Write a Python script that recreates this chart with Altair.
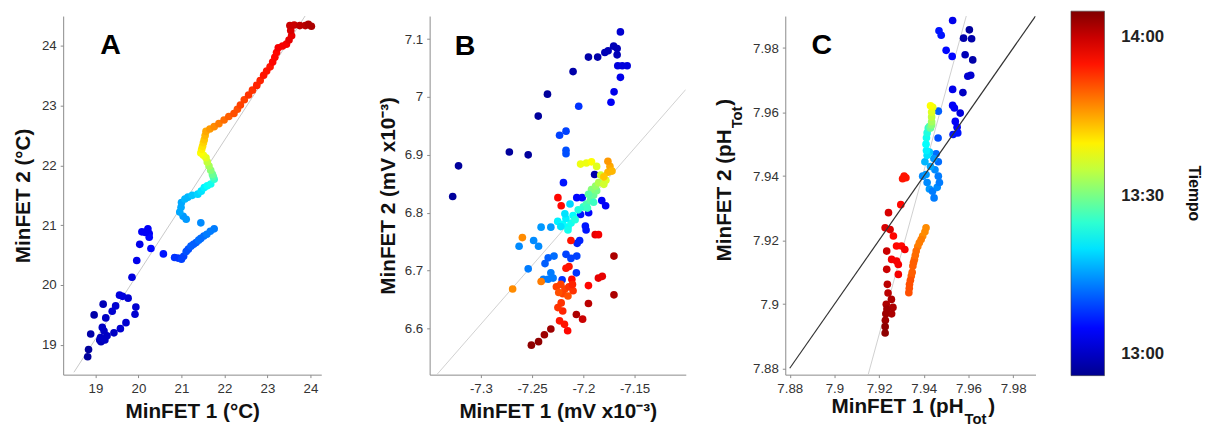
import altair as alt
import pandas as pd

FONT = "Liberation Sans"

# ---------------- Panel A (temperature, °C) ----------------
a_x = [18.82, 18.84, 18.89, 18.97, 19.18, 19.10, 19.13, 19.16, 19.12, 19.20, 19.27, 19.22, 19.43, 19.58,
       19.71, 19.92, 19.94, 19.76, 19.56, 19.63, 19.47, 19.39, 19.24, 19.16,
       19.85, 19.96, 20.03, 20.08, 20.22, 20.25, 20.25, 20.16, 20.29, 20.58,
       20.84, 20.92, 21.00, 21.05, 21.11, 21.16, 21.22, 21.28, 21.34, 21.40, 21.45, 21.52, 21.59, 21.67, 21.76,
       21.45, 21.11, 21.04, 20.96, 20.99, 21.00, 21.08, 21.15, 21.25, 21.38, 21.46, 21.53, 21.60, 21.68, 21.76,
       21.74, 21.72, 21.68, 21.64, 21.60, 21.57, 21.51, 21.45, 21.47, 21.49, 21.51, 21.53, 21.55, 21.57,
       21.66, 21.76, 21.87, 21.99, 22.10, 22.22, 22.30, 22.37, 22.46, 22.56, 22.65, 22.75, 22.83, 22.91,
       22.98, 23.06, 23.12, 23.17, 23.21, 23.25, 23.35, 23.44, 23.50, 23.56, 23.54, 23.52, 23.62, 23.75,
       23.88, 24.02, 23.95]
a_y = [18.80, 18.92, 19.18, 19.50, 19.68, 19.08, 19.05, 19.10, 19.12, 19.23, 19.15, 19.08, 19.20, 19.27,
       19.37, 19.51, 19.63, 19.78, 19.83, 19.81, 19.65, 19.56, 19.45, 19.29,
       20.13, 20.41, 20.68, 20.89, 20.94, 20.86, 20.80, 20.88, 20.61, 20.52,
       20.46, 20.45, 20.43, 20.48, 20.56, 20.60, 20.65, 20.68, 20.71, 20.75, 20.78, 20.82, 20.85, 20.90, 20.94,
       21.04, 21.10, 21.15, 21.22, 21.30, 21.38, 21.44, 21.47, 21.50, 21.52, 21.57, 21.63, 21.66, 21.69, 21.77,
       21.81, 21.85, 21.92, 21.99, 22.06, 22.13, 22.17, 22.21, 22.27, 22.32, 22.38, 22.43, 22.50, 22.57,
       22.61, 22.65, 22.70, 22.76, 22.82, 22.87, 22.94, 23.01, 23.10, 23.18, 23.26, 23.34, 23.42, 23.51,
       23.58, 23.65, 23.73, 23.81, 23.89, 23.97, 24.00, 24.03, 24.10, 24.17, 24.26, 24.34, 24.35, 24.34,
       24.34, 24.33, 24.36]
a_t = [-3, -3, -2, -2, -1, -1, -1, -1, 0, 0, 0, 0, 0, 1,
       1, 1, 1, 1, 2, 2, 1, 1, 0, 0,
       2, 3, 3, 4, 4, 4, 5, 4, 5, 6,
       8, 8, 9, 9, 10, 10, 11, 11, 11, 12, 12, 12, 13, 13, 13,
       14, 15, 15, 16, 16, 16, 17, 17, 18, 19, 20, 21, 22, 23, 25,
       27, 29, 31, 33, 35, 37, 38, 39, 40, 41, 42, 43, 44, 45,
       46, 47, 48, 49, 50, 51, 51, 52, 52, 53, 53, 54, 54, 55,
       55, 55, 56, 56, 56, 57, 57, 57, 58, 58, 59, 60, 60, 61,
       61, 62, 62]
a_line_x = [18.5, 23.9]
a_line_y = [18.54, 24.53]

# ---------------- Panel B (mV x10^-3) ----------------
b_x = [-7.1704, -7.1670, -7.1758, -7.1790, -7.1860, -7.1950, -7.1670, -7.2100, -7.2350, -7.2440, -7.2722,
       -7.2538, -7.3218, -7.3275, -7.1890,
       -7.1638, -7.1664, -7.1620, -7.1572, -7.1638, -7.1700, -7.1730, -7.2045, -7.2232, -7.2169, -7.2169,
       -7.2169, -7.2194, -7.2064, -7.2011, -7.2027, -7.1948, -7.1980, -7.1973, -7.1820, -7.1782, -7.2036,
       -7.2060, -7.2169, -7.2121, -7.2064, -7.2068, -7.2207,
       -7.2412, -7.2317, -7.2627, -7.2485, -7.2437, -7.2538, -7.2374, -7.2343, -7.2286, -7.2390, -7.2343,
       -7.2295, -7.2317,
       -7.2250, -7.2200, -7.2150, -7.2120, -7.2170, -7.2100, -7.2050, -7.2000, -7.2150, -7.2220, -7.2080,
       -7.2180, -7.2130,
       -7.1970, -7.1930, -7.1900, -7.1870, -7.1920, -7.1950, -7.1880, -7.1850, -7.1900, -7.1960,
       -7.2027, -7.1970, -7.1920, -7.1870, -7.1830, -7.1780, -7.1800,
       -7.1760, -7.1740, -7.1760, -7.1720, -7.1800, -7.2595, -7.2690, -7.2412,
       -7.2248, -7.2216, -7.2121, -7.2169, -7.2140, -7.2112,
       -7.2263, -7.2220, -7.2180, -7.2140, -7.2100, -7.2200, -7.2150, -7.2240, -7.2106,
       -7.1950, -7.1853, -7.1815, -7.1884, -7.1852,
       -7.2216, -7.2201, -7.2232, -7.2184, -7.2153, -7.2248,
       -7.1701, -7.1701, -7.1950, -7.2068, -7.2007, -7.2317, -7.2380, -7.2437, -7.2507]
b_y = [7.088, 7.084, 7.080, 7.077, 7.069, 7.069, 7.073, 7.044, 7.005, 6.967, 6.905,
       6.900, 6.881, 6.828, 6.866,
       7.1126, 7.054, 7.054, 7.054, 7.034, 7.009, 6.991, 6.984, 6.934, 6.941, 6.908,
       6.902, 6.852, 6.826, 6.826, 6.797, 6.800, 6.777, 6.770, 6.821, 6.812, 6.752,
       6.747, 6.728, 6.721, 6.725, 6.696, 6.684,
       6.775, 6.775, 6.742, 6.752, 6.742, 6.703, 6.712, 6.722, 6.725, 6.685, 6.685,
       6.687, 6.696,
       6.785, 6.780, 6.775, 6.782, 6.790, 6.795, 6.805, 6.810, 6.770, 6.776, 6.788,
       6.798, 6.815,
       6.815, 6.822, 6.830, 6.838, 6.840, 6.832, 6.846, 6.852, 6.818, 6.808,
       6.884, 6.886, 6.888, 6.880, 6.865, 6.856, 6.849,
       6.870, 6.880, 6.889, 6.872, 6.862, 6.757, 6.668, 6.681,
       6.826, 6.812, 6.752, 6.704, 6.707, 6.685,
       6.672, 6.676, 6.668, 6.672, 6.665, 6.660, 6.656, 6.662, 6.676,
       6.674, 6.687, 6.690, 6.762, 6.762,
       6.644, 6.630, 6.613, 6.607, 6.596, 6.636,
       6.658, 6.725, 6.643, 6.624, 6.616, 6.599, 6.589, 6.577, 6.571]
b_t = [-1, -1, -1, -1, -2, -2, -1, -2, -3, -3, -3,
       -3, -3, -3, -2,
       1, 2, 2, 2, 3, 3, 4, 8, 9, 9, 10,
       10, 6, 5, 5, 6, 5, 6, 6, 4, 4, 7,
       7, 9, 9, 9, 8, 8,
       15, 15, 14, 14, 14, 13, 11, 11, 12, 13, 13,
       13, 13,
       21, 22, 22, 23, 21, 22, 24, 25, 23, 20, 24,
       20, 19,
       27, 28, 29, 30, 31, 28, 32, 34, 26, 26,
       38, 38, 39, 37, 36, 37, 36,
       44, 45, 46, 44, 43, 47, 47, 48,
       56, 56, 55, 55, 55, 56,
       52, 52, 52, 53, 53, 52, 51, 51, 54,
       56, 58, 58, 58, 57,
       53, 54, 55, 55, 56, 53,
       62, 62, 61, 62, 60, 63, 63, 64, 64]
b_line_x = [-7.343, -7.100]
b_line_y = [6.520, 7.013]

# ---------------- Panel C (pH_Tot) ----------------
c_x = [7.9529, 7.9468, 7.9478, 7.9604, 7.9578, 7.9614, 7.9500, 7.9527, 7.9585, 7.9619, 7.9597, 7.9610,
       7.9529, 7.9575, 7.9529, 7.9537, 7.9563, 7.9541, 7.9549, 7.9531, 7.9552, 7.9465, 7.9464,
       7.9395, 7.9415, 7.9425, 7.9439, 7.9446, 7.9460, 7.9465, 7.9450, 7.9465, 7.9455, 7.9445, 7.9430,
       7.9410, 7.9405, 7.9425, 7.9470,
       7.9415, 7.9412, 7.9410, 7.9412, 7.9415, 7.9420, 7.9425, 7.9430, 7.9435, 7.9435, 7.9435, 7.9435,
       7.9440, 7.9430,
       7.9410, 7.9405, 7.9395, 7.9388, 7.9380, 7.9373, 7.9366, 7.9362, 7.9358, 7.9354, 7.9351, 7.9348,
       7.9344, 7.9340, 7.9336, 7.9335, 7.9333,
       7.9312, 7.9320, 7.9305, 7.9297, 7.9264, 7.9278, 7.9300, 7.9315, 7.9256, 7.9278, 7.9286, 7.9286,
       7.9242, 7.9227, 7.9249, 7.9234, 7.9234, 7.9237, 7.9240, 7.9255, 7.9262, 7.9256, 7.9232, 7.9230,
       7.9228, 7.9227, 7.9227, 7.9235]
c_y = [7.9886, 7.9854, 7.9840, 7.9857, 7.9831, 7.9829, 7.9793, 7.9774, 7.9779, 7.9763, 7.9712, 7.9715,
       7.9671, 7.9661, 7.9621, 7.9613, 7.9597, 7.9571, 7.9553, 7.9530, 7.9535, 7.9603, 7.9519,
       7.9400, 7.9380, 7.9360, 7.9353, 7.9332, 7.9365, 7.9400, 7.9420, 7.9445, 7.9470, 7.9455, 7.9430,
       7.9405, 7.9445, 7.9475, 7.9380,
       7.9465, 7.9480, 7.9500, 7.9520, 7.9535, 7.9550, 7.9555, 7.9550, 7.9560, 7.9570, 7.9585, 7.9600,
       7.9615, 7.9620,
       7.9239, 7.9226, 7.9213, 7.9202, 7.9192, 7.9180, 7.9166, 7.9153, 7.9140, 7.9130, 7.9119, 7.9100,
       7.9088, 7.9075, 7.9062, 7.9050, 7.9036,
       7.9400, 7.9395, 7.9392, 7.9311, 7.9213, 7.9182, 7.9182, 7.9171, 7.9140, 7.9135, 7.9124, 7.9093,
       7.9286, 7.9239, 7.9233, 7.9166, 7.9109, 7.9062, 7.9035, 7.9015, 7.8990, 7.8970, 7.9000, 7.8970,
       7.8950, 7.8930, 7.8910, 7.8985]
c_t = [3, 6, 6, -3, -2, -2, 5, 5, -1, -2, 1, 1,
       3, 0, 4, 4, 2, 4, 4, 6, 6, 11, 10,
       14, 14, 15, 13, 13, 14, 13, 14, 12, 12, 15, 16,
       15, 17, 18, 13,
       20, 21, 22, 23, 24, 25, 27, 29, 31, 33, 35, 37,
       38, 39,
       47, 47, 47, 48, 48, 48, 49, 49, 49, 50, 50, 50,
       50, 51, 51, 51, 51,
       55, 55, 55, 56, 56, 56, 56, 57, 57, 57, 57, 57,
       59, 59, 59, 60, 60, 61, 61, 62, 62, 62, 62, 63,
       63, 64, 64, 63]
c_line1_x = [7.88, 7.99]
c_line1_y = [7.88, 7.99]
c_line2_x = [7.9151, 7.9590]
c_line2_y = [7.878, 7.990]

# ---------------- axes / labels ----------------
a_xticks = [19, 20, 21, 22, 23, 24]
a_yticks = [19, 20, 21, 22, 23, 24]
b_xticks = [-7.3, -7.25, -7.2, -7.15]
b_yticks = [6.6, 6.7, 6.8, 6.9, 7.0, 7.1]
c_xticks = [7.88, 7.9, 7.92, 7.94, 7.96, 7.98]
c_yticks = [7.88, 7.9, 7.92, 7.94, 7.96, 7.98]
panel_letters = ["A", "B", "C"]
time_ticks = [0, 30, 60]
time_labels = ["13:00", "13:30", "14:00"]
colorbar_title = "Tiempo"

jet_domain = [-4, 4.625, 21.875, 39.125, 56.375, 65]
jet_colors = ["#00008f", "#0000ff", "#00ffff", "#ffff00", "#ff0000", "#800000"]

label_expr = (f"datum.value == {time_ticks[0]} ? '{time_labels[0]}' : "
              f"datum.value == {time_ticks[1]} ? '{time_labels[1]}' : '{time_labels[2]}'")

color_enc = alt.Color(
    "t:Q",
    scale=alt.Scale(domain=jet_domain, range=jet_colors, interpolate="rgb"),
    legend=alt.Legend(
        title=None, orient="none", legendX=1023, legendY=-5, direction="vertical",
        gradientLength=370, gradientThickness=34, values=time_ticks, labelExpr=label_expr,
        labelFont=FONT, labelFontSize=17, labelFontWeight="bold", labelColor="#222",
        labelOffset=17, labelOverlap=False, gradientStrokeColor="#444",
        gradientStrokeWidth=0.6,
    ),
)


def axis(values, title, title_pad, label_pad=4):
    kw = dict(values=values, labelExpr="toString(datum.value)", grid=False,
              domainColor="#8a8a8a", tickColor="#8a8a8a", tickSize=3,
              labelFont=FONT, labelFontSize=13.5, labelColor="#333", labelPadding=label_pad,
              labelOverlap=False, labelFlush=False)
    if title is None:
        kw["title"] = None
    else:
        kw.update(title=title, titleFont=FONT, titleFontSize=21, titleFontWeight="bold",
                  titleColor="#111", titlePadding=title_pad)
    return alt.Axis(**kw)


def txt(s, x, y, size, angle=0, align="left", baseline="alphabetic"):
    return alt.Chart(pd.DataFrame({"s": [s]})).mark_text(
        font=FONT, fontSize=size, fontWeight="bold", color="#111", align=align,
        baseline=baseline, angle=angle
    ).encode(x=alt.value(x), y=alt.value(y), text="s:N")


def panel(x, y, t, lines, xdom, ydom, xticks, yticks, xtitle, ytitle, letter, letter_pos,
          w, h, ytitle_pad, extra=None):
    df = pd.DataFrame({"x": x, "y": y, "t": t})
    xs = alt.Scale(domain=xdom, nice=False, zero=False)
    ys = alt.Scale(domain=ydom, nice=False, zero=False)
    X = alt.X("x:Q", scale=xs, axis=axis(xticks, xtitle, 6))
    Y = alt.Y("y:Q", scale=ys, axis=axis(yticks, ytitle, ytitle_pad))
    layers = []
    for lx, ly, col, lw, on_top in lines:
        ldf = pd.DataFrame({"x": lx, "y": ly})
        layers.append((on_top, alt.Chart(ldf).mark_line(color=col, strokeWidth=lw, clip=True)
                       .encode(x=alt.X("x:Q", scale=xs), y=alt.Y("y:Q", scale=ys))))
    base = [l for top, l in layers if not top]
    top = [l for top, l in layers if top]
    pts = alt.Chart(df).mark_circle(size=60, opacity=1).encode(x=X, y=Y, color=color_enc)
    let = alt.Chart(pd.DataFrame({"label": [letter]})).mark_text(
        font=FONT, fontSize=29, fontWeight="bold", color="#000", align="center", baseline="middle"
    ).encode(x=alt.value(letter_pos[0]), y=alt.value(letter_pos[1]), text="label:N")
    parts = base + [pts] + top + [let] + (extra or [])
    return alt.layer(*parts).properties(width=w, height=h)


A = panel(a_x, a_y, a_t, [(a_line_x, a_line_y, "#c8c8c8", 1, False)],
          [18.25, 24.25], [18.5, 24.5], a_xticks, a_yticks,
          "MinFET 1 (°C)", "MinFET 2 (°C)", panel_letters[0], (48, 30), 262, 364, 8)

B = panel(b_x, b_y, b_t, [(b_line_x, b_line_y, "#d0d0d0", 1, False)],
          [-7.35, -7.10], [6.52, 7.14], b_xticks, b_yticks,
          "MinFET 1 (mV x10⁻³)", "MinFET 2 (mV x10⁻³)", panel_letters[1], (36, 31), 260, 364, 6)

c_titles = [
    txt("MinFET 1 (pH", 181, 403, 21, align="right"),
    txt("Tot", 182, 414, 15, align="left"),
    txt(")", 206, 403, 21, align="left"),
    txt("MinFET 2 (pH", -55, 115, 21, angle=270, align="right"),
    txt("Tot", -44, 114, 15, angle=270, align="left"),
    txt(")", -55, 91, 21, angle=270, align="left"),
    txt(colorbar_title, 415, 180, 16, angle=90, align="center", baseline="middle"),
]

C = panel(c_x, c_y, c_t, [(c_line2_x, c_line2_y, "#cfcfcf", 1, False),
                          (c_line1_x, c_line1_y, "#333333", 1.2, True)],
          [7.878, 7.99], [7.878, 7.99], c_xticks, c_yticks,
          None, None, panel_letters[2], (37, 30), 254, 364, 6, extra=c_titles)

left = alt.hconcat(A, B, spacing=110, bounds="flush")
chart = alt.hconcat(left, C, spacing=29).properties(
    padding={"left": 4, "top": 0, "right": 0, "bottom": 0},
    background="white",
).configure_view(strokeWidth=0)

chart.save("out.html", embed_options={"renderer": "svg", "actions": False})
